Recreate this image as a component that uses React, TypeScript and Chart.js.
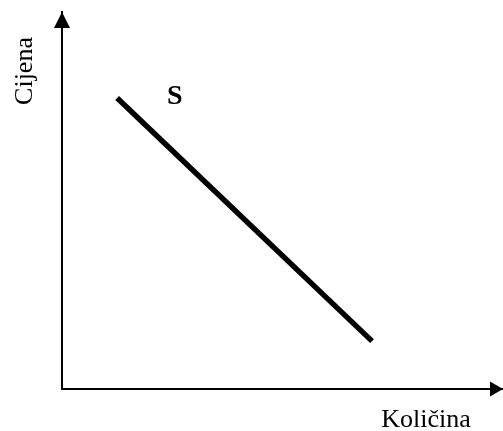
import React, { useEffect, useRef } from "react";
import { Chart, registerables } from "chart.js";

Chart.register(...registerables);

const supplyX = [1.25, 7.03];
const supplyY = [7.72, 1.27];
const seriesLabel = "S";
const yAxisTitle = "Cijena";
const xAxisTitle = "Količina";

const FONT = "'Liberation Serif', 'Times New Roman', serif";

const decor = {
  id: "decor",
  afterDraw(chart: any) {
    const { ctx, chartArea } = chart;
    const xs = chart.scales.x;
    const ys = chart.scales.y;
    const L = chartArea.left;
    const B = chartArea.bottom;
    ctx.save();
    ctx.fillStyle = "#000";
    // y arrow
    ctx.beginPath();
    ctx.moveTo(L, chartArea.top);
    ctx.lineTo(L - 8, chartArea.top + 16);
    ctx.lineTo(L + 8, chartArea.top + 16);
    ctx.closePath();
    ctx.fill();
    // x arrow
    ctx.beginPath();
    ctx.moveTo(chartArea.right, B);
    ctx.lineTo(chartArea.right - 13, B - 7.5);
    ctx.lineTo(chartArea.right - 13, B + 7.5);
    ctx.closePath();
    ctx.fill();
    // S label
    ctx.font = `bold 28px ${FONT}`;
    ctx.textAlign = "center";
    ctx.textBaseline = "alphabetic";
    ctx.fillText(seriesLabel, xs.getPixelForValue(2.56), ys.getPixelForValue(7.55));
    // x title
    ctx.font = `26px ${FONT}`;
    ctx.fillText(xAxisTitle, 426, 427);
    // y title
    ctx.translate(32, 71);
    ctx.rotate(-Math.PI / 2);
    ctx.fillText(yAxisTitle, 0, 0);
    ctx.restore();
  },
};

export default function App() {
  const ref = useRef<HTMLCanvasElement | null>(null);
  useEffect(() => {
    if (!ref.current) return;
    const chart = new Chart(ref.current, {
      type: "scatter",
      data: {
        datasets: [
          {
            data: supplyX.map((x, i) => ({ x, y: supplyY[i] })),
            showLine: true,
            borderColor: "#000",
            borderWidth: 5.5,
            pointRadius: 0,
            borderCapStyle: "butt",
          },
        ],
      },
      options: {
        animation: false,
        responsive: false,
        events: [],
        layout: { padding: { left: 62, top: 12, right: 0, bottom: 42 } },
        plugins: { legend: { display: false }, tooltip: { enabled: false } },
        scales: {
          x: {
            min: 0,
            max: 10,
            ticks: { display: false },
            grid: { display: false, drawTicks: false },
            border: { display: true, color: "#000", width: 2 },
          },
          y: {
            min: 0,
            max: 10,
            ticks: { display: false },
            grid: { display: false, drawTicks: false },
            border: { display: true, color: "#000", width: 2 },
          },
        },
      },
      plugins: [decor],
    });
    return () => chart.destroy();
  }, []);
  return (
    <div style={{ position: "fixed", left: 0, top: 0, width: 503, height: 431, background: "#fff" }}>
      <canvas ref={ref} width={503} height={431} style={{ width: 503, height: 431 }} />
    </div>
  );
}
